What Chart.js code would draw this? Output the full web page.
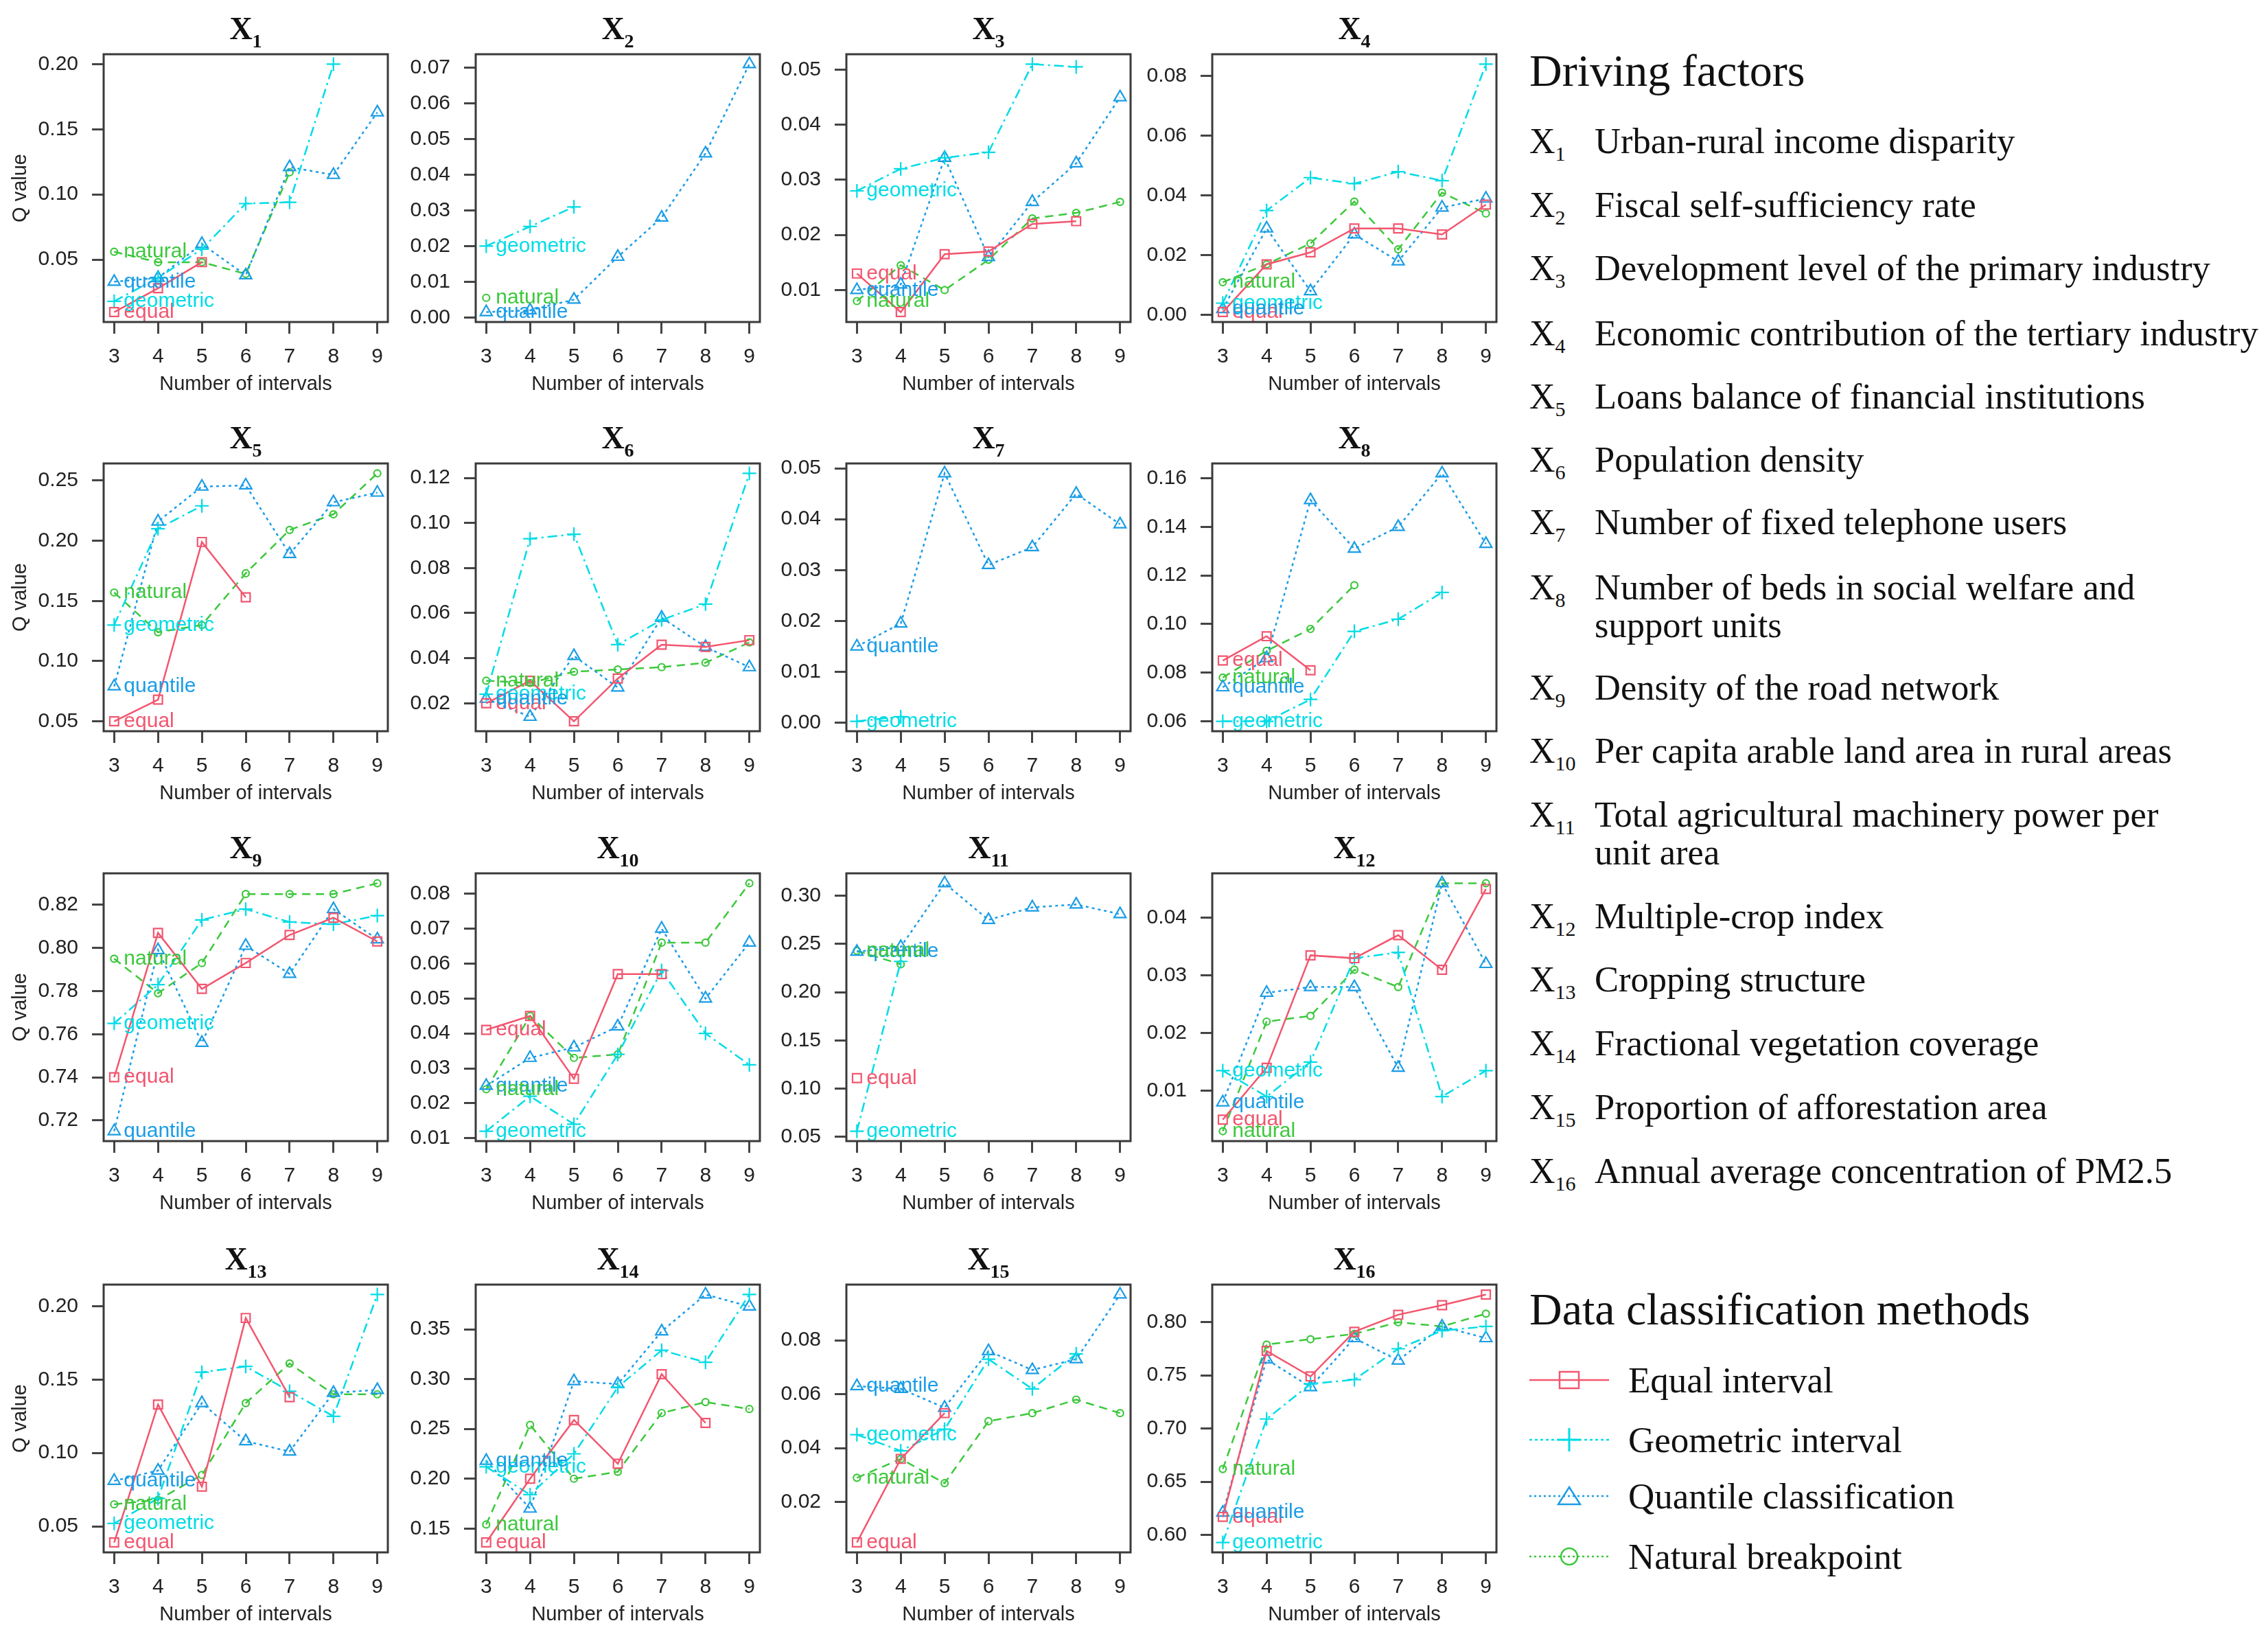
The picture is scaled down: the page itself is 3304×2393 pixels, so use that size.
<!DOCTYPE html>
<html>
<head>
<meta charset="utf-8">
<script src="https://cdn.jsdelivr.net/npm/chart.js@4.4.1/dist/chart.umd.min.js"></script>
<style>
  body { margin: 0; background: #fff; }
  #page { position: relative; width: 3304px; height: 2393px; overflow: hidden; color: #111; }
  canvas.panel { position: absolute; }
  .ptitle { position: absolute; width: 240px; text-align: center; font: bold 46px/46px "Liberation Serif", "Times New Roman", serif; }
  .ptitle span { font-size: 28px; position: relative; top: 12px; }
  .qlabel { position: absolute; width: 240px; text-align: center; font: 29px/34px "Liberation Sans", Arial, sans-serif; color: #222; transform: rotate(-90deg); }
  .head { position: absolute; left: 2228px; font: 66px/76px "Liberation Serif", "Times New Roman", serif; white-space: nowrap; }
  .fx { position: absolute; left: 2228px; font: 52px/55px "Liberation Serif", "Times New Roman", serif; white-space: nowrap; }
  .fx span { font-size: 30px; position: relative; top: 11px; }
  .ft { position: absolute; left: 2323px; font: 52.5px/55px "Liberation Serif", "Times New Roman", serif; white-space: pre; }
  .mk { position: absolute; left: 2228px; }
  .mt { position: absolute; left: 2372px; font: 53px/55px "Liberation Serif", "Times New Roman", serif; white-space: nowrap; }
</style>
</head>
<body>
<div id="page"></div>
<script>
// number of intervals on the x axis
const categories = [3, 4, 5, 6, 7, 8, 9];

// Q values, one row per driving factor X1..X16, one column per number of intervals
const equal = [
  [0.0097, 0.028, 0.048, null, null, null, null],
  [null, null, null, null, null, null, null],
  [0.013, 0.006, 0.0165, 0.017, 0.022, 0.0225, null],
  [0.001, 0.017, 0.021, 0.029, 0.029, 0.027, 0.037],
  [0.050, 0.068, 0.199, 0.153, null, null, null],
  [0.020, 0.030, 0.012, 0.031, 0.046, 0.045, 0.048],
  [null, null, null, null, null, null, null],
  [0.085, 0.095, 0.081, null, null, null, null],
  [0.740, 0.807, 0.781, 0.793, 0.806, 0.814, 0.803],
  [0.041, 0.045, 0.027, 0.057, 0.057, null, null],
  [0.111, null, null, null, null, null, null],
  [0.005, 0.014, 0.0335, 0.033, 0.037, 0.031, 0.045],
  [0.039, 0.133, 0.077, 0.192, 0.138, null, null],
  [0.136, 0.200, 0.259, 0.215, 0.305, 0.256, null],
  [0.005, 0.036, 0.053, null, null, null, null],
  [0.617, 0.773, 0.749, 0.791, 0.807, 0.816, 0.826]
];

const geometric = [
  [0.018, 0.036, 0.058, 0.093, 0.094, 0.200, null],
  [0.020, 0.0255, 0.031, null, null, null, null],
  [0.028, 0.032, 0.034, 0.035, 0.051, 0.0505, null],
  [0.004, 0.035, 0.046, 0.044, 0.048, 0.045, 0.084],
  [0.130, 0.210, 0.229, null, null, null, null],
  [0.024, 0.093, 0.095, 0.046, 0.057, 0.064, 0.122],
  [0.0003, 0.0012, null, null, null, null, null],
  [0.060, 0.060, 0.069, 0.097, 0.102, 0.113, null],
  [0.765, 0.783, 0.813, 0.818, 0.812, 0.811, 0.815],
  [0.012, 0.022, 0.014, 0.034, 0.058, 0.040, 0.031],
  [0.056, 0.232, null, null, null, null, null],
  [0.0135, 0.009, 0.015, 0.033, 0.034, 0.009, 0.0135],
  [0.052, 0.069, 0.155, 0.159, 0.142, 0.125, 0.208],
  [0.212, 0.184, 0.225, 0.292, 0.329, 0.317, 0.385],
  [0.045, 0.039, 0.047, 0.073, 0.062, 0.075, null],
  [0.593, 0.709, 0.742, 0.746, 0.775, 0.792, 0.796]
];

const quantile = [
  [0.033, 0.036, 0.062, 0.038, 0.121, 0.115, 0.163],
  [0.0015, 0.002, 0.005, 0.017, 0.028, 0.046, 0.071],
  [0.010, 0.011, 0.034, 0.016, 0.026, 0.033, 0.045],
  [0.002, 0.029, 0.008, 0.027, 0.018, 0.036, 0.039],
  [0.079, 0.216, 0.245, 0.246, 0.189, 0.232, 0.240],
  [0.022, 0.014, 0.041, 0.027, 0.058, 0.045, 0.036],
  [0.015, 0.0195, 0.049, 0.031, 0.0345, 0.045, 0.039],
  [0.074, 0.086, 0.151, 0.131, 0.140, 0.162, 0.133],
  [0.715, 0.799, 0.756, 0.801, 0.788, 0.818, 0.804],
  [0.025, 0.033, 0.036, 0.042, 0.070, 0.050, 0.066],
  [0.242, 0.247, 0.313, 0.275, 0.288, 0.291, 0.281],
  [0.008, 0.027, 0.028, 0.028, 0.014, 0.046, 0.032],
  [0.081, 0.088, 0.134, 0.108, 0.101, 0.141, 0.143],
  [0.218, 0.170, 0.298, 0.295, 0.348, 0.385, 0.373],
  [0.063, 0.062, 0.055, 0.076, 0.069, 0.073, 0.097],
  [0.621, 0.765, 0.739, 0.785, 0.764, 0.796, 0.785]
];

const natural = [
  [0.056, 0.048, 0.048, 0.039, 0.117, null, null],
  [0.0055, null, null, null, null, null, null],
  [0.008, 0.0145, 0.010, 0.0155, 0.023, 0.024, 0.026],
  [0.011, 0.017, 0.024, 0.038, 0.022, 0.041, 0.034],
  [0.157, 0.124, 0.130, 0.173, 0.209, 0.222, 0.256],
  [0.030, 0.029, 0.034, 0.035, 0.036, 0.038, 0.047],
  [null, null, null, null, null, null, null],
  [0.078, 0.089, 0.098, 0.116, null, null, null],
  [0.795, 0.779, 0.793, 0.825, 0.825, 0.825, 0.830],
  [0.024, 0.045, 0.033, 0.034, 0.066, 0.066, 0.083],
  [0.243, 0.229, null, null, null, null, null],
  [0.003, 0.022, 0.023, 0.031, 0.028, 0.046, 0.046],
  [0.065, 0.068, 0.085, 0.134, 0.161, 0.140, 0.140],
  [0.154, 0.254, 0.200, 0.207, 0.266, 0.277, 0.270],
  [0.029, 0.036, 0.027, 0.050, 0.053, 0.058, 0.053],
  [0.662, 0.779, 0.784, 0.789, 0.800, 0.796, 0.808]
];

// y tick labels of each panel
const yTicks = [
  [0.05, 0.10, 0.15, 0.20],
  [0.00, 0.01, 0.02, 0.03, 0.04, 0.05, 0.06, 0.07],
  [0.01, 0.02, 0.03, 0.04, 0.05],
  [0.00, 0.02, 0.04, 0.06, 0.08],
  [0.05, 0.10, 0.15, 0.20, 0.25],
  [0.02, 0.04, 0.06, 0.08, 0.10, 0.12],
  [0.00, 0.01, 0.02, 0.03, 0.04, 0.05],
  [0.06, 0.08, 0.10, 0.12, 0.14, 0.16],
  [0.72, 0.74, 0.76, 0.78, 0.80, 0.82],
  [0.01, 0.02, 0.03, 0.04, 0.05, 0.06, 0.07, 0.08],
  [0.05, 0.10, 0.15, 0.20, 0.25, 0.30],
  [0.01, 0.02, 0.03, 0.04],
  [0.05, 0.10, 0.15, 0.20],
  [0.15, 0.20, 0.25, 0.30, 0.35],
  [0.02, 0.04, 0.06, 0.08],
  [0.60, 0.65, 0.70, 0.75, 0.80]
];

const factorNames = [
  'Urban-rural income disparity',
  'Fiscal self-sufficiency rate',
  'Development level of the primary industry',
  'Economic contribution of the tertiary industry',
  'Loans balance of financial institutions',
  'Population density',
  'Number of fixed telephone users',
  'Number of beds in social welfare and\nsupport units',
  'Density of the road network',
  'Per capita arable land area in rural areas',
  'Total agricultural machinery power per\nunit area',
  'Multiple-crop index',
  'Cropping structure',
  'Fractional vegetation coverage',
  'Proportion of afforestation area',
  'Annual average concentration of PM2.5'
];

const methodNames = ['Equal interval', 'Geometric interval', 'Quantile classification', 'Natural breakpoint'];

// ---- styling / layout ----
const sans = '"Liberation Sans", Arial, sans-serif';
const methods = [
  { label: 'equal',     values: equal,     color: '#F2566F', dash: [],            point: 'rect',     radius: 9 },
  { label: 'geometric', values: geometric, color: '#00DCE6', dash: [14, 6, 3, 6], point: 'cross',    radius: 10 },
  { label: 'quantile',  values: quantile,  color: '#1B9DE6', dash: [4, 5],        point: 'triangle', radius: 10 },
  { label: 'natural',   values: natural,   color: '#3CC83C', dash: [12, 8],       point: 'circle',   radius: 5 }
];

const boxLeft = [151, 693, 1233, 1766];
const boxTop = [79, 675, 1272, 1871];
const boxW = 414, boxH = 390;
const padL = 130, padT = 40, padR = 20, padB = 110;

const page = document.getElementById('page');

const frameBox = {
  id: 'frameBox',
  afterDraw(chart) {
    const { ctx, chartArea: a } = chart;
    ctx.save();
    ctx.strokeStyle = '#3a3a3a';
    ctx.lineWidth = 3;
    ctx.strokeRect(a.left, a.top, a.right - a.left, a.bottom - a.top);
    ctx.restore();
  }
};

const seriesLabels = {
  id: 'seriesLabels',
  afterDatasetsDraw(chart) {
    const { ctx, chartArea: a } = chart;
    ctx.save();
    ctx.beginPath();
    ctx.rect(a.left, a.top, a.right - a.left, a.bottom - a.top);
    ctx.clip();
    ctx.font = '30px ' + sans;
    ctx.textBaseline = 'middle';
    ctx.textAlign = 'left';
    chart.data.datasets.forEach((ds, i) => {
      const first = chart.getDatasetMeta(i).data[0];
      if (!first) return;
      ctx.fillStyle = ds.borderColor;
      ctx.fillText(ds.label, first.x + 14, first.y);
    });
    ctx.restore();
  }
};

function makePanel(i) {
  const row = Math.floor(i / 4), col = i % 4;
  const left = boxLeft[col] - padL, top = boxTop[row] - padT;

  const canvas = document.createElement('canvas');
  canvas.className = 'panel';
  canvas.width = padL + boxW + padR;
  canvas.height = padT + boxH + padB;
  canvas.style.left = left + 'px';
  canvas.style.top = top + 'px';
  page.appendChild(canvas);

  const title = document.createElement('div');
  title.className = 'ptitle';
  title.innerHTML = 'X<span>' + (i + 1) + '</span>';
  title.style.left = (boxLeft[col] + boxW / 2 - 120) + 'px';
  title.style.top = (boxTop[row] - 60) + 'px';
  page.appendChild(title);

  if (col === 0) {
    const q = document.createElement('div');
    q.className = 'qlabel';
    q.textContent = 'Q value';
    q.style.left = (28 - 120) + 'px';
    q.style.top = (boxTop[row] + boxH / 2 - 17) + 'px';
    page.appendChild(q);
  }

  const datasets = methods.map(m => ({
    label: m.label,
    data: categories.map((c, k) => ({ x: c, y: m.values[i][k] })).filter(p => p.y !== null),
    borderColor: m.color,
    backgroundColor: 'rgba(0,0,0,0)',
    borderWidth: 2.5,
    borderDash: m.dash,
    pointStyle: m.point,
    pointRadius: m.radius,
    pointBorderWidth: 2.2,
    pointBorderColor: m.color,
    pointBackgroundColor: 'rgba(0,0,0,0)',
    tension: 0,
    fill: false
  }));

  const all = methods.flatMap(m => m.values[i]).filter(v => v !== null);
  const lo = Math.min(...all), hi = Math.max(...all), r = hi - lo;

  const tickGrid = {
    display: true, drawOnChartArea: false, drawTicks: true,
    tickLength: 17, color: '#444', lineWidth: 3
  };

  new Chart(canvas, {
    type: 'line',
    data: { datasets },
    options: {
      responsive: false,
      animation: false,
      devicePixelRatio: 1,
      layout: { autoPadding: false, padding: { left: 0, top: padT, right: padR, bottom: 0 } },
      plugins: { legend: { display: false }, tooltip: { enabled: false }, title: { display: false } },
      scales: {
        x: {
          type: 'linear', min: 2.76, max: 9.24,
          afterBuildTicks: s => { s.ticks = categories.map(v => ({ value: v })); },
          afterFit: s => { s.height = padB; },
          grid: tickGrid,
          border: { display: false },
          ticks: { font: { size: 30, family: sans }, color: '#222', padding: 16, maxRotation: 0, autoSkip: false, callback: v => String(v) },
          title: { display: true, text: 'Number of intervals', font: { size: 29, family: sans }, color: '#222', padding: { top: 0, bottom: 2 } }
        },
        y: {
          type: 'linear', min: lo - 0.04 * r, max: hi + 0.04 * r,
          afterBuildTicks: s => { s.ticks = yTicks[i].map(v => ({ value: v })); },
          afterFit: s => { s.width = padL; },
          grid: tickGrid,
          border: { display: false },
          ticks: { font: { size: 30, family: sans }, color: '#222', padding: 20, autoSkip: false, callback: v => Number(v).toFixed(2) }
        }
      }
    },
    plugins: [seriesLabels, frameBox]
  });
}

for (let i = 0; i < 16; i++) makePanel(i);

// ---- right-hand legend ----
function addDiv(cls, html, topPx) {
  const d = document.createElement('div');
  d.className = cls;
  d.innerHTML = html;
  d.style.top = topPx + 'px';
  page.appendChild(d);
  return d;
}

const factorY = [205, 298, 390, 485, 577, 669, 760, 855, 1001, 1093, 1186, 1334, 1426, 1519, 1612, 1705];
addDiv('head', 'Driving factors', 103 - 38);
factorNames.forEach((name, k) => {
  addDiv('fx', 'X<span>' + (k + 1) + '</span>', factorY[k] - 27.5);
  const t = addDiv('ft', '', factorY[k] - 27.5);
  t.textContent = name;
});

addDiv('head', 'Data classification methods', 1907 - 38);
const methodY = [2010, 2097, 2179, 2267];
const svgDash = ['', '4 4', '3 4', '3 4'];
methods.forEach((m, k) => {
  const c = m.color;
  let marker;
  if (m.point === 'rect') marker = `<rect x="44" y="9" width="28" height="24" fill="none" stroke="${c}" stroke-width="2.5"/>`;
  else if (m.point === 'cross') marker = `<line x1="58" y1="4" x2="58" y2="38" stroke="${c}" stroke-width="3"/><line x1="42" y1="21" x2="74" y2="21" stroke="${c}" stroke-width="3"/>`;
  else if (m.point === 'triangle') marker = `<polygon points="58,8 74,33 42,33" fill="none" stroke="${c}" stroke-width="2.5"/>`;
  else marker = `<circle cx="58" cy="21" r="12" fill="none" stroke="${c}" stroke-width="2.5"/>`;
  const svg = `<svg width="116" height="42" xmlns="http://www.w3.org/2000/svg"><line x1="0" y1="21" x2="116" y2="21" stroke="${c}" stroke-width="2.5" stroke-dasharray="${svgDash[k]}"/>${marker}</svg>`;
  addDiv('mk', svg, methodY[k] - 21);
  addDiv('mt', methodNames[k], methodY[k] - 27.5);
});
</script>
</body>
</html>
